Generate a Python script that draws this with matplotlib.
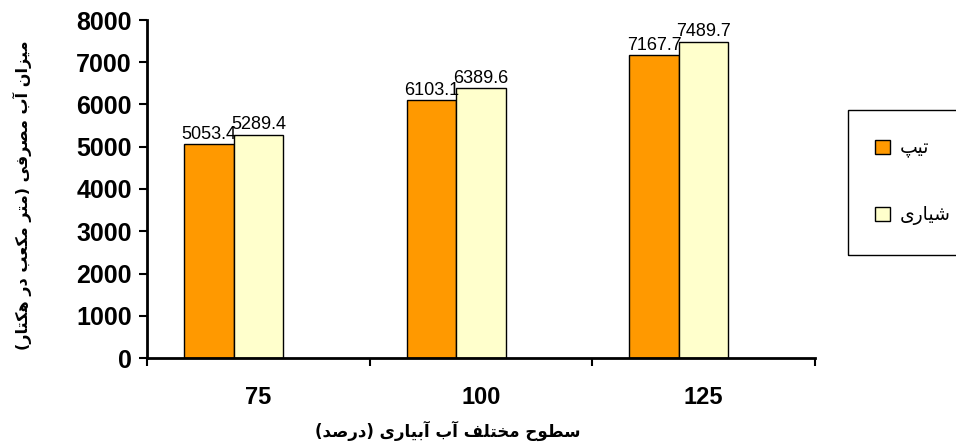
import matplotlib
matplotlib.use("Agg")
import matplotlib.pyplot as plt
from matplotlib.patches import Patch, Rectangle
import numpy as np

# ---- data ----
categories = ["75", "100", "125"]
series_names = ["تیپ", "شیاری"]
tape_values = [5053.4, 6103.1, 7167.7]
furrow_values = [5289.4, 6389.6, 7489.7]
y_ticks = [0, 1000, 2000, 3000, 4000, 5000, 6000, 7000, 8000]
x_label = "سطوح مختلف آب آبیاری (درصد)"
y_label = "میزان آب مصرفی (متر مکعب در هکتار)"

# ---- minimal Persian shaping (presentation forms) + RTL ordering ----
FORMS = {
    'ا': (0xFE8D, 0xFE8E, None, None),
    'آ': (0xFE81, 0xFE82, None, None),
    'ب': (0xFE8F, 0xFE90, 0xFE91, 0xFE92),
    'پ': (0xFB56, 0xFB57, 0xFB58, 0xFB59),
    'ت': (0xFE95, 0xFE96, 0xFE97, 0xFE98),
    'ح': (0xFEA1, 0xFEA2, 0xFEA3, 0xFEA4),
    'خ': (0xFEA5, 0xFEA6, 0xFEA7, 0xFEA8),
    'د': (0xFEA9, 0xFEAA, None, None),
    'ذ': (0xFEAB, 0xFEAC, None, None),
    'ر': (0xFEAD, 0xFEAE, None, None),
    'ز': (0xFEAF, 0xFEB0, None, None),
    'س': (0xFEB1, 0xFEB2, 0xFEB3, 0xFEB4),
    'ش': (0xFEB5, 0xFEB6, 0xFEB7, 0xFEB8),
    'ص': (0xFEB9, 0xFEBA, 0xFEBB, 0xFEBC),
    'ط': (0xFEC1, 0xFEC2, 0xFEC3, 0xFEC4),
    'ع': (0xFEC9, 0xFECA, 0xFECB, 0xFECC),
    'ف': (0xFED1, 0xFED2, 0xFED3, 0xFED4),
    'ک': (0xFB8E, 0xFB8F, 0xFB90, 0xFB91),
    'ل': (0xFEDD, 0xFEDE, 0xFEDF, 0xFEE0),
    'م': (0xFEE1, 0xFEE2, 0xFEE3, 0xFEE4),
    'ن': (0xFEE5, 0xFEE6, 0xFEE7, 0xFEE8),
    'ه': (0xFEE9, 0xFEEA, 0xFEEB, 0xFEEC),
    'و': (0xFEED, 0xFEEE, None, None),
    'ی': (0xFBFC, 0xFBFD, 0xFBFE, 0xFBFF),
}


def fa(s):
    out = []
    for i, c in enumerate(s):
        if c not in FORMS:
            out.append(c)
            continue
        prev = s[i - 1] if i > 0 else None
        nxt = s[i + 1] if i + 1 < len(s) else None
        join_prev = prev in FORMS and FORMS[prev][2] is not None
        join_next = FORMS[c][2] is not None and nxt in FORMS
        iso, fin, ini, med = FORMS[c]
        if join_prev and join_next:
            g = med
        elif join_prev:
            g = fin
        elif join_next:
            g = ini
        else:
            g = iso
        out.append(chr(g))
    vis = ''.join(out)[::-1]
    return vis.translate(str.maketrans('()', ')('))


plt.rcParams['font.family'] = ['Liberation Sans', 'DejaVu Sans']

fig = plt.figure(figsize=(9.56, 4.45), dpi=100)
ax = fig.add_axes([147 / 956, 1 - 358 / 445, (815 - 147) / 956, (358 - 20) / 445])

x = np.arange(len(categories))
w = 0.223
colors = ["#FF9900", "#FFFFCC"]
b1 = ax.bar(x - w, tape_values, w, color=colors[0], edgecolor="black", linewidth=1.0)
b2 = ax.bar(x, furrow_values, w, color=colors[1], edgecolor="black", linewidth=1.0)

for bars, vals in ((b1, tape_values), (b2, furrow_values)):
    for rect, v in zip(bars, vals):
        ax.annotate(f"{v:.1f}", (rect.get_x() + rect.get_width() / 2, v),
                    xytext=(0, 1), textcoords="offset points",
                    ha="center", va="bottom", fontsize=13, color="black")

ax.set_xlim(-0.5, len(categories) - 0.5)
ax.set_ylim(0, 8000)
ax.set_yticks(y_ticks)
ax.set_yticklabels([str(t) for t in y_ticks], fontsize=18, fontweight="bold")
ax.tick_params(axis="y", direction="out", length=6, width=1.5, pad=5)

ax.set_xticks(np.arange(-0.5, len(categories), 1.0))
ax.set_xticklabels([])
ax.tick_params(axis="x", which="major", direction="out", length=6, width=1.5)
ax.set_xticks(x, minor=True)
ax.set_xticklabels(categories, minor=True, fontsize=17, fontweight="bold")
ax.tick_params(axis="x", which="minor", length=0, pad=20)

for s in ("top", "right"):
    ax.spines[s].set_visible(False)
for s in ("left", "bottom"):
    ax.spines[s].set_linewidth(2)

fig.text(448 / 956, 1 - 431 / 445, fa(x_label), ha="center", va="center",
         fontsize=12, fontweight="bold", family=["DejaVu Sans"])
fig.text(22 / 956, 1 - 195 / 445, fa(y_label), ha="center", va="center",
         rotation=90, fontsize=11.5, fontweight="bold", family=["DejaVu Sans"])

# legend box
fig.patches.append(Rectangle((848 / 956, 1 - 255 / 445), 0.2, 145 / 445,
                             transform=fig.transFigure, facecolor="none",
                             edgecolor="black", linewidth=1.0))
handles = [Patch(facecolor=colors[0], edgecolor="black", linewidth=1.0),
           Patch(facecolor=colors[1], edgecolor="black", linewidth=1.0)]
fig.legend(handles, [fa(n) for n in series_names], loc="center left",
           bbox_to_anchor=(866 / 956, 1 - 182 / 445), frameon=False,
           prop={"family": ["DejaVu Sans"], "size": 13.5},
           handlelength=0.8, handleheight=0.8, handletextpad=0.5,
           labelspacing=2.5, borderpad=0)

fig.savefig("out.png", dpi=100)
